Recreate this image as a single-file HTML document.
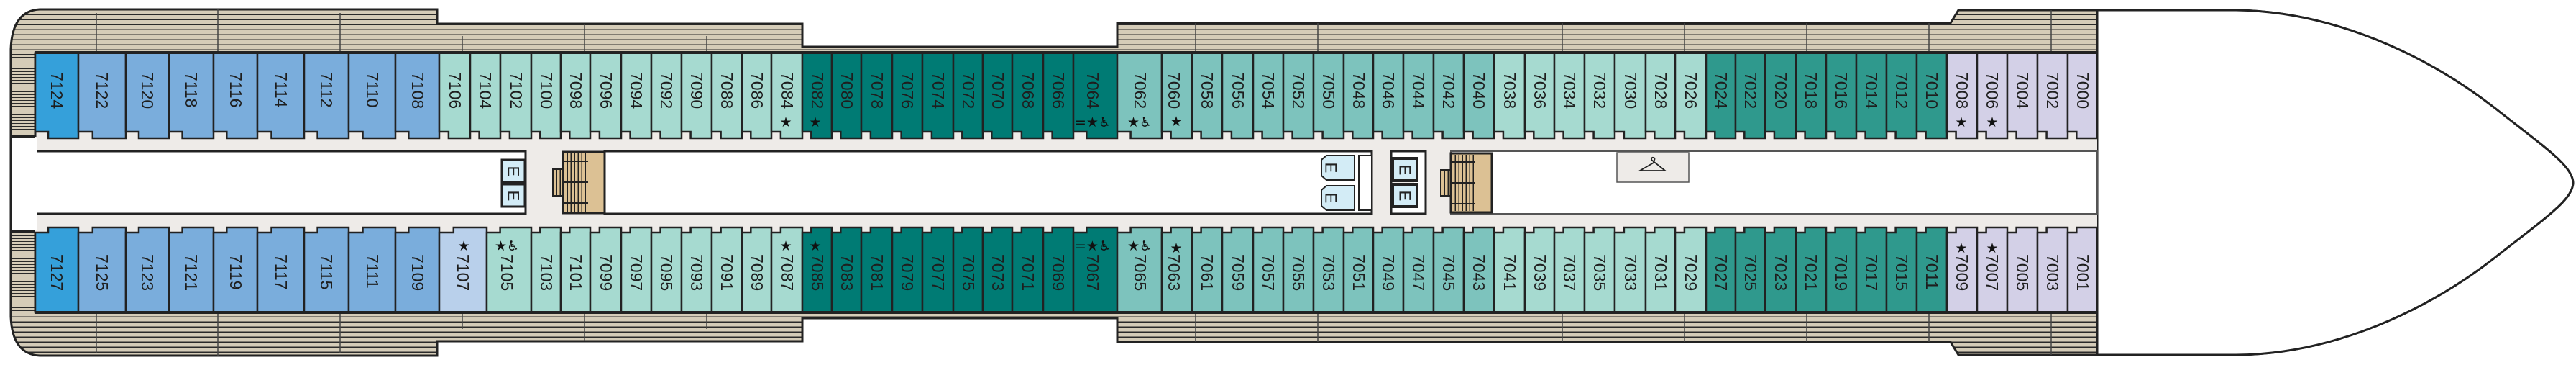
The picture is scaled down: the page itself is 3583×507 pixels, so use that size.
<!DOCTYPE html>
<html><head><meta charset="utf-8"><style>
html,body{margin:0;padding:0;background:#fff;}
svg{display:block;}
.t{font-family:"Liberation Sans",sans-serif;font-size:23px;fill:#1e1e1e;dominant-baseline:central;}
.s{font-family:"DejaVu Sans","Liberation Sans",sans-serif;font-size:19px;fill:#111;text-anchor:middle;dominant-baseline:central;}
.e{font-family:"Liberation Sans",sans-serif;font-size:22px;fill:#222;dominant-baseline:central;text-anchor:middle;}
</style></head><body>
<svg width="3583" height="507" viewBox="0 0 3583 507" xmlns="http://www.w3.org/2000/svg">
<defs>
<pattern id="st" width="10" height="7" patternUnits="userSpaceOnUse"><rect width="10" height="7" fill="#d5ccb8"/><rect y="5.5" width="10" height="1.5" fill="#2a2a2a"/></pattern>
<pattern id="st2" width="10" height="4" patternUnits="userSpaceOnUse"><rect width="10" height="4" fill="#d5ccb8"/><rect y="3" width="10" height="1" fill="#2a2a2a"/></pattern>
<pattern id="sv" width="5" height="10" patternUnits="userSpaceOnUse"><rect width="5" height="10" fill="#dcc194"/><rect x="3.5" width="1.5" height="10" fill="#222"/></pattern>
<symbol id="ct" viewBox="0 0 100 119" preserveAspectRatio="none" style="overflow:visible"><polygon points="0,0 100,0 100,119 30,119 30,110 0,110" vector-effect="non-scaling-stroke"/></symbol>
<symbol id="cb" viewBox="0 0 100 118" preserveAspectRatio="none" style="overflow:visible"><polygon points="0,7 30,7 30,0 100,0 100,118 0,118" vector-effect="non-scaling-stroke"/></symbol>
</defs>

<!-- hull with deck stripes -->
<path d="M55,13 L608,13 L608,33 L1116,33 L1116,65 L1554,65 L1554,32 L2713,32 L2724,14 L3110,14 C3250,16 3380,80 3470,150 C3540,205 3578,230 3579,254 C3578,278 3540,303 3470,358 C3380,428 3250,492 3110,493 L2724,493 L2713,475 L1554,475 L1554,442 L1116,442 L1116,474 L608,474 L608,494 L55,494 Q17,492 15,440 L15,68 Q17,15 55,13 Z" fill="url(#st)" stroke="#222" stroke-width="3"/>
<!-- bow white -->
<path d="M2917,14 L3110,14 C3250,16 3380,80 3470,150 C3540,205 3578,230 3579,254 C3578,278 3540,303 3470,358 C3380,428 3250,492 3110,493 L2917,493 Z" fill="#fff" stroke="#222" stroke-width="3"/>
<!-- deck dividers -->
<g stroke="#444" stroke-width="1.5">
<line x1="134" y1="18" x2="134" y2="73"/><line x1="303" y1="13" x2="303" y2="73"/><line x1="473" y1="18" x2="473" y2="73"/>
<line x1="134" y1="434" x2="134" y2="490"/><line x1="303" y1="434" x2="303" y2="494"/><line x1="473" y1="434" x2="473" y2="490"/>
<line x1="643" y1="50" x2="643" y2="73"/><line x1="813" y1="33" x2="813" y2="73"/><line x1="983" y1="50" x2="983" y2="73"/>
<line x1="643" y1="434" x2="643" y2="457"/><line x1="813" y1="434" x2="813" y2="474"/><line x1="983" y1="434" x2="983" y2="457"/>
<line x1="1663" y1="32" x2="1663" y2="73"/><line x1="1833" y1="32" x2="1833" y2="73"/><line x1="2173" y1="32" x2="2173" y2="73"/><line x1="2343" y1="32" x2="2343" y2="73"/><line x1="2513" y1="32" x2="2513" y2="73"/><line x1="2683" y1="32" x2="2683" y2="73"/><line x1="2853" y1="14" x2="2853" y2="73"/>
<line x1="1663" y1="434" x2="1663" y2="475"/><line x1="1833" y1="434" x2="1833" y2="475"/><line x1="2173" y1="434" x2="2173" y2="475"/><line x1="2343" y1="434" x2="2343" y2="475"/><line x1="2513" y1="434" x2="2513" y2="475"/><line x1="2683" y1="434" x2="2683" y2="475"/><line x1="2853" y1="434" x2="2853" y2="493"/>
</g>
<line x1="2917" y1="14" x2="2917" y2="493" stroke="#222" stroke-width="3"/>

<!-- stern stripes & opening -->
<rect x="16" y="73" width="33" height="117" fill="url(#st2)"/>
<rect x="16" y="322" width="33" height="112" fill="url(#st2)"/>
<rect x="16" y="190" width="33" height="132" fill="#fff"/>
<line x1="15" y1="190" x2="50" y2="190" stroke="#222" stroke-width="4"/>
<line x1="15" y1="322" x2="50" y2="322" stroke="#222" stroke-width="4"/>

<!-- corridor -->
<rect x="49" y="180" width="2868" height="146" fill="#eeebe8"/>
<!-- white inner boxes -->
<rect x="49" y="210" width="682" height="87" fill="#fff" stroke="#222" stroke-width="3"/>
<rect x="16" y="192" width="35" height="128" fill="#fff"/>
<rect x="841" y="210" width="1067" height="87" fill="#fff" stroke="#222" stroke-width="3"/>
<rect x="2018" y="210" width="899" height="87" fill="#fff" stroke="#555" stroke-width="2"/>
<line x1="49" y1="73" x2="49" y2="190" stroke="#222" stroke-width="3"/>
<line x1="49" y1="322" x2="49" y2="434" stroke="#222" stroke-width="3"/>

<!-- elevators A -->
<rect x="698" y="222" width="32" height="31" fill="#d3ecf6" stroke="#222" stroke-width="3"/>
<rect x="698" y="256" width="32" height="31" fill="#d3ecf6" stroke="#222" stroke-width="3"/>
<text class="e" transform="translate(714,238) rotate(90)">E</text>
<text class="e" transform="translate(714,272) rotate(90)">E</text>
<!-- stairs 1 -->
<rect x="769" y="235" width="14" height="37" fill="url(#sv)" stroke="#222" stroke-width="2"/>
<rect x="783" y="211" width="58" height="85" fill="#dcc194" stroke="#222" stroke-width="3"/>
<rect x="785" y="213" width="33" height="81" fill="url(#sv)"/>
<g stroke="#222" stroke-width="2"><line x1="783" y1="224" x2="818" y2="224"/><line x1="783" y1="253" x2="818" y2="253"/><line x1="783" y1="282" x2="818" y2="282"/></g>

<!-- elevators B -->
<rect x="1890" y="216" width="18" height="76" fill="#fff" stroke="#222" stroke-width="2"/>
<path d="M1845,216 L1884,216 L1884,250 L1845,250 L1838,244 L1838,222 Z" fill="#d3ecf6" stroke="#222" stroke-width="2"/>
<path d="M1845,258 L1884,258 L1884,292 L1845,292 L1838,286 L1838,264 Z" fill="#d3ecf6" stroke="#222" stroke-width="2"/>
<text class="e" transform="translate(1851,233) rotate(90)">E</text>
<text class="e" transform="translate(1851,275) rotate(90)">E</text>
<!-- elevators C -->
<rect x="1935" y="210" width="48" height="87" fill="#fff" stroke="#222" stroke-width="3"/>
<rect x="1937" y="225" width="30" height="60" fill="#eeebe8"/>
<rect x="1937" y="220" width="34" height="31" fill="#d3ecf6" stroke="#222" stroke-width="4"/>
<rect x="1937" y="256" width="34" height="31" fill="#d3ecf6" stroke="#222" stroke-width="4"/>
<text class="e" transform="translate(1954,236) rotate(90)">E</text>
<text class="e" transform="translate(1954,272) rotate(90)">E</text>
<!-- stairs 2 -->
<rect x="2004" y="236" width="14" height="36" fill="url(#sv)" stroke="#222" stroke-width="2"/>
<rect x="2018" y="213" width="57" height="82" fill="#dcc194" stroke="#222" stroke-width="3"/>
<rect x="2020" y="215" width="32" height="78" fill="url(#sv)"/>
<g stroke="#222" stroke-width="2"><line x1="2018" y1="225" x2="2052" y2="225"/><line x1="2018" y1="254" x2="2052" y2="254"/><line x1="2018" y1="283" x2="2052" y2="283"/></g>
<!-- wardrobe -->
<rect x="2249" y="212" width="100" height="41" fill="#eeebe8" stroke="#555" stroke-width="1.5"/>
<path d="M2297,222 q0,-4 3,-3 q3,1 0,5 L2300,226 L2281,237 L2316,237 Z" fill="none" stroke="#222" stroke-width="1.8"/>

<!-- cabins top -->
<g stroke="#222" stroke-width="2.5">
<use href="#ct" x="49" y="73" width="60" height="119" fill="#35a0da"/>
<g fill="#7aaddc">
<use href="#ct" x="109" y="73" width="66" height="119"/><use href="#ct" x="175" y="73" width="60" height="119"/><use href="#ct" x="235" y="73" width="62" height="119"/><use href="#ct" x="297" y="73" width="61" height="119"/><use href="#ct" x="358" y="73" width="65" height="119"/><use href="#ct" x="423" y="73" width="62" height="119"/><use href="#ct" x="485" y="73" width="65" height="119"/><use href="#ct" x="550" y="73" width="61" height="119"/>
</g>
<g fill="#a6dad0">
<use href="#ct" x="611" y="73" width="43" height="119"/><use href="#ct" x="654" y="73" width="42" height="119"/><use href="#ct" x="696" y="73" width="43" height="119"/><use href="#ct" x="739" y="73" width="41" height="119"/><use href="#ct" x="780" y="73" width="41" height="119"/><use href="#ct" x="821" y="73" width="43" height="119"/><use href="#ct" x="864" y="73" width="42" height="119"/><use href="#ct" x="906" y="73" width="42" height="119"/><use href="#ct" x="948" y="73" width="42" height="119"/><use href="#ct" x="990" y="73" width="42" height="119"/><use href="#ct" x="1032" y="73" width="41" height="119"/><use href="#ct" x="1073" y="73" width="43" height="119"/>
</g>
<g fill="#007b74">
<use href="#ct" x="1116" y="73" width="41" height="119"/><use href="#ct" x="1157" y="73" width="41" height="119"/><use href="#ct" x="1198" y="73" width="43" height="119"/><use href="#ct" x="1241" y="73" width="42" height="119"/><use href="#ct" x="1283" y="73" width="43" height="119"/><use href="#ct" x="1326" y="73" width="41" height="119"/><use href="#ct" x="1367" y="73" width="41" height="119"/><use href="#ct" x="1408" y="73" width="43" height="119"/><use href="#ct" x="1451" y="73" width="42" height="119"/><use href="#ct" x="1493" y="73" width="61" height="119"/>
</g>
<g fill="#7dc3bd">
<use href="#ct" x="1554" y="73" width="62" height="119"/><use href="#ct" x="1616" y="73" width="42" height="119"/><use href="#ct" x="1658" y="73" width="42" height="119"/><use href="#ct" x="1700" y="73" width="43" height="119"/><use href="#ct" x="1743" y="73" width="42" height="119"/><use href="#ct" x="1785" y="73" width="42" height="119"/><use href="#ct" x="1827" y="73" width="42" height="119"/><use href="#ct" x="1869" y="73" width="41" height="119"/><use href="#ct" x="1910" y="73" width="42" height="119"/><use href="#ct" x="1952" y="73" width="42" height="119"/><use href="#ct" x="1994" y="73" width="42" height="119"/><use href="#ct" x="2036" y="73" width="42" height="119"/>
</g>
<g fill="#a6dad0">
<use href="#ct" x="2078" y="73" width="43" height="119"/><use href="#ct" x="2121" y="73" width="41" height="119"/><use href="#ct" x="2162" y="73" width="42" height="119"/><use href="#ct" x="2204" y="73" width="42" height="119"/><use href="#ct" x="2246" y="73" width="43" height="119"/><use href="#ct" x="2289" y="73" width="41" height="119"/><use href="#ct" x="2330" y="73" width="43" height="119"/>
</g>
<g fill="#2f998d">
<use href="#ct" x="2373" y="73" width="41" height="119"/><use href="#ct" x="2414" y="73" width="41" height="119"/><use href="#ct" x="2455" y="73" width="43" height="119"/><use href="#ct" x="2498" y="73" width="42" height="119"/><use href="#ct" x="2540" y="73" width="42" height="119"/><use href="#ct" x="2582" y="73" width="42" height="119"/><use href="#ct" x="2624" y="73" width="42" height="119"/><use href="#ct" x="2666" y="73" width="42" height="119"/>
</g>
<g fill="#d3d0e7">
<use href="#ct" x="2708" y="73" width="42" height="119"/><use href="#ct" x="2750" y="73" width="42" height="119"/><use href="#ct" x="2792" y="73" width="42" height="119"/><use href="#ct" x="2834" y="73" width="42" height="119"/><use href="#ct" x="2876" y="73" width="41" height="119"/>
</g>
</g>

<!-- cabins bottom -->
<g stroke="#222" stroke-width="2.5">
<use href="#cb" x="49" y="316" width="60" height="118" fill="#35a0da"/>
<g fill="#7aaddc">
<use href="#cb" x="109" y="316" width="66" height="118"/><use href="#cb" x="175" y="316" width="60" height="118"/><use href="#cb" x="235" y="316" width="62" height="118"/><use href="#cb" x="297" y="316" width="61" height="118"/><use href="#cb" x="358" y="316" width="65" height="118"/><use href="#cb" x="423" y="316" width="62" height="118"/><use href="#cb" x="485" y="316" width="65" height="118"/><use href="#cb" x="550" y="316" width="61" height="118"/>
</g>
<use href="#cb" x="611" y="316" width="66" height="118" fill="#b9d0eb"/>
<g fill="#a6dad0">
<use href="#cb" x="677" y="316" width="62" height="118"/><use href="#cb" x="739" y="316" width="41" height="118"/><use href="#cb" x="780" y="316" width="41" height="118"/><use href="#cb" x="821" y="316" width="43" height="118"/><use href="#cb" x="864" y="316" width="42" height="118"/><use href="#cb" x="906" y="316" width="42" height="118"/><use href="#cb" x="948" y="316" width="42" height="118"/><use href="#cb" x="990" y="316" width="42" height="118"/><use href="#cb" x="1032" y="316" width="41" height="118"/><use href="#cb" x="1073" y="316" width="43" height="118"/>
</g>
<g fill="#007b74">
<use href="#cb" x="1116" y="316" width="41" height="118"/><use href="#cb" x="1157" y="316" width="41" height="118"/><use href="#cb" x="1198" y="316" width="43" height="118"/><use href="#cb" x="1241" y="316" width="42" height="118"/><use href="#cb" x="1283" y="316" width="43" height="118"/><use href="#cb" x="1326" y="316" width="41" height="118"/><use href="#cb" x="1367" y="316" width="41" height="118"/><use href="#cb" x="1408" y="316" width="43" height="118"/><use href="#cb" x="1451" y="316" width="42" height="118"/><use href="#cb" x="1493" y="316" width="61" height="118"/>
</g>
<g fill="#7dc3bd">
<use href="#cb" x="1554" y="316" width="62" height="118"/><use href="#cb" x="1616" y="316" width="42" height="118"/><use href="#cb" x="1658" y="316" width="42" height="118"/><use href="#cb" x="1700" y="316" width="43" height="118"/><use href="#cb" x="1743" y="316" width="42" height="118"/><use href="#cb" x="1785" y="316" width="42" height="118"/><use href="#cb" x="1827" y="316" width="42" height="118"/><use href="#cb" x="1869" y="316" width="41" height="118"/><use href="#cb" x="1910" y="316" width="42" height="118"/><use href="#cb" x="1952" y="316" width="42" height="118"/><use href="#cb" x="1994" y="316" width="42" height="118"/><use href="#cb" x="2036" y="316" width="42" height="118"/>
</g>
<g fill="#a6dad0">
<use href="#cb" x="2078" y="316" width="43" height="118"/><use href="#cb" x="2121" y="316" width="41" height="118"/><use href="#cb" x="2162" y="316" width="42" height="118"/><use href="#cb" x="2204" y="316" width="42" height="118"/><use href="#cb" x="2246" y="316" width="43" height="118"/><use href="#cb" x="2289" y="316" width="41" height="118"/><use href="#cb" x="2330" y="316" width="43" height="118"/>
</g>
<g fill="#2f998d">
<use href="#cb" x="2373" y="316" width="41" height="118"/><use href="#cb" x="2414" y="316" width="41" height="118"/><use href="#cb" x="2455" y="316" width="43" height="118"/><use href="#cb" x="2498" y="316" width="42" height="118"/><use href="#cb" x="2540" y="316" width="42" height="118"/><use href="#cb" x="2582" y="316" width="42" height="118"/><use href="#cb" x="2624" y="316" width="42" height="118"/><use href="#cb" x="2666" y="316" width="42" height="118"/>
</g>
<g fill="#d3d0e7">
<use href="#cb" x="2708" y="316" width="42" height="118"/><use href="#cb" x="2750" y="316" width="42" height="118"/><use href="#cb" x="2792" y="316" width="42" height="118"/><use href="#cb" x="2834" y="316" width="42" height="118"/><use href="#cb" x="2876" y="316" width="41" height="118"/>
</g>
</g>
<line x1="49" y1="73" x2="2917" y2="73" stroke="#222" stroke-width="4"/>
<line x1="49" y1="434" x2="2917" y2="434" stroke="#222" stroke-width="4"/>

<!-- top labels -->
<g class="t">
<text class="t" transform="translate(79,100) rotate(90)">7124</text>
<text class="t" transform="translate(142,100) rotate(90)">7122</text>
<text class="t" transform="translate(205,100) rotate(90)">7120</text>
<text class="t" transform="translate(266,100) rotate(90)">7118</text>
<text class="t" transform="translate(328,100) rotate(90)">7116</text>
<text class="t" transform="translate(391,100) rotate(90)">7114</text>
<text class="t" transform="translate(454,100) rotate(90)">7112</text>
<text class="t" transform="translate(518,100) rotate(90)">7110</text>
<text class="t" transform="translate(581,100) rotate(90)">7108</text>
<text class="t" transform="translate(633,100) rotate(90)">7106</text>
<text class="t" transform="translate(675,100) rotate(90)">7104</text>
<text class="t" transform="translate(718,100) rotate(90)">7102</text>
<text class="t" transform="translate(760,100) rotate(90)">7100</text>
<text class="t" transform="translate(801,100) rotate(90)">7098</text>
<text class="t" transform="translate(843,100) rotate(90)">7096</text>
<text class="t" transform="translate(885,100) rotate(90)">7094</text>
<text class="t" transform="translate(927,100) rotate(90)">7092</text>
<text class="t" transform="translate(969,100) rotate(90)">7090</text>
<text class="t" transform="translate(1011,100) rotate(90)">7088</text>
<text class="t" transform="translate(1053,100) rotate(90)">7086</text>
<text class="t" transform="translate(1095,100) rotate(90)">7084</text>
<text class="t" transform="translate(1137,100) rotate(90)">7082</text>
<text class="t" transform="translate(1178,100) rotate(90)">7080</text>
<text class="t" transform="translate(1220,100) rotate(90)">7078</text>
<text class="t" transform="translate(1262,100) rotate(90)">7076</text>
<text class="t" transform="translate(1305,100) rotate(90)">7074</text>
<text class="t" transform="translate(1347,100) rotate(90)">7072</text>
<text class="t" transform="translate(1388,100) rotate(90)">7070</text>
<text class="t" transform="translate(1430,100) rotate(90)">7068</text>
<text class="t" transform="translate(1472,100) rotate(90)">7066</text>
<text class="t" transform="translate(1520,100) rotate(90)">7064</text>
<text class="t" transform="translate(1586,100) rotate(90)">7062</text>
<text class="t" transform="translate(1633,100) rotate(90)">7060</text>
<text class="t" transform="translate(1679,100) rotate(90)">7058</text>
<text class="t" transform="translate(1722,100) rotate(90)">7056</text>
<text class="t" transform="translate(1764,100) rotate(90)">7054</text>
<text class="t" transform="translate(1806,100) rotate(90)">7052</text>
<text class="t" transform="translate(1848,100) rotate(90)">7050</text>
<text class="t" transform="translate(1890,100) rotate(90)">7048</text>
<text class="t" transform="translate(1931,100) rotate(90)">7046</text>
<text class="t" transform="translate(1973,100) rotate(90)">7044</text>
<text class="t" transform="translate(2015,100) rotate(90)">7042</text>
<text class="t" transform="translate(2057,100) rotate(90)">7040</text>
<text class="t" transform="translate(2100,100) rotate(90)">7038</text>
<text class="t" transform="translate(2142,100) rotate(90)">7036</text>
<text class="t" transform="translate(2183,100) rotate(90)">7034</text>
<text class="t" transform="translate(2225,100) rotate(90)">7032</text>
<text class="t" transform="translate(2268,100) rotate(90)">7030</text>
<text class="t" transform="translate(2310,100) rotate(90)">7028</text>
<text class="t" transform="translate(2352,100) rotate(90)">7026</text>
<text class="t" transform="translate(2394,100) rotate(90)">7024</text>
<text class="t" transform="translate(2435,100) rotate(90)">7022</text>
<text class="t" transform="translate(2477,100) rotate(90)">7020</text>
<text class="t" transform="translate(2519,100) rotate(90)">7018</text>
<text class="t" transform="translate(2561,100) rotate(90)">7016</text>
<text class="t" transform="translate(2603,100) rotate(90)">7014</text>
<text class="t" transform="translate(2645,100) rotate(90)">7012</text>
<text class="t" transform="translate(2687,100) rotate(90)">7010</text>
<text class="t" transform="translate(2729,100) rotate(90)">7008</text>
<text class="t" transform="translate(2771,100) rotate(90)">7006</text>
<text class="t" transform="translate(2813,100) rotate(90)">7004</text>
<text class="t" transform="translate(2855,100) rotate(90)">7002</text>
<text class="t" transform="translate(2897,100) rotate(90)">7000</text>
</g>

<!-- bottom labels -->
<g>
<text class="t" transform="translate(79,353) rotate(90)">7127</text>
<text class="t" transform="translate(142,353) rotate(90)">7125</text>
<text class="t" transform="translate(205,353) rotate(90)">7123</text>
<text class="t" transform="translate(266,353) rotate(90)">7121</text>
<text class="t" transform="translate(328,353) rotate(90)">7119</text>
<text class="t" transform="translate(391,353) rotate(90)">7117</text>
<text class="t" transform="translate(454,353) rotate(90)">7115</text>
<text class="t" transform="translate(518,353) rotate(90)">7111</text>
<text class="t" transform="translate(581,353) rotate(90)">7109</text>
<text class="t" transform="translate(644,353) rotate(90)">7107</text>
<text class="t" transform="translate(705,353) rotate(90)">7105</text>
<text class="t" transform="translate(760,353) rotate(90)">7103</text>
<text class="t" transform="translate(801,353) rotate(90)">7101</text>
<text class="t" transform="translate(843,353) rotate(90)">7099</text>
<text class="t" transform="translate(885,353) rotate(90)">7097</text>
<text class="t" transform="translate(927,353) rotate(90)">7095</text>
<text class="t" transform="translate(969,353) rotate(90)">7093</text>
<text class="t" transform="translate(1011,353) rotate(90)">7091</text>
<text class="t" transform="translate(1053,353) rotate(90)">7089</text>
<text class="t" transform="translate(1095,353) rotate(90)">7087</text>
<text class="t" transform="translate(1137,353) rotate(90)">7085</text>
<text class="t" transform="translate(1178,353) rotate(90)">7083</text>
<text class="t" transform="translate(1220,353) rotate(90)">7081</text>
<text class="t" transform="translate(1262,353) rotate(90)">7079</text>
<text class="t" transform="translate(1305,353) rotate(90)">7077</text>
<text class="t" transform="translate(1347,353) rotate(90)">7075</text>
<text class="t" transform="translate(1388,353) rotate(90)">7073</text>
<text class="t" transform="translate(1430,353) rotate(90)">7071</text>
<text class="t" transform="translate(1472,353) rotate(90)">7069</text>
<text class="t" transform="translate(1520,353) rotate(90)">7067</text>
<text class="t" transform="translate(1586,353) rotate(90)">7065</text>
<text class="t" transform="translate(1633,353) rotate(90)">7063</text>
<text class="t" transform="translate(1679,353) rotate(90)">7061</text>
<text class="t" transform="translate(1722,353) rotate(90)">7059</text>
<text class="t" transform="translate(1764,353) rotate(90)">7057</text>
<text class="t" transform="translate(1806,353) rotate(90)">7055</text>
<text class="t" transform="translate(1848,353) rotate(90)">7053</text>
<text class="t" transform="translate(1890,353) rotate(90)">7051</text>
<text class="t" transform="translate(1931,353) rotate(90)">7049</text>
<text class="t" transform="translate(1973,353) rotate(90)">7047</text>
<text class="t" transform="translate(2015,353) rotate(90)">7045</text>
<text class="t" transform="translate(2057,353) rotate(90)">7043</text>
<text class="t" transform="translate(2100,353) rotate(90)">7041</text>
<text class="t" transform="translate(2142,353) rotate(90)">7039</text>
<text class="t" transform="translate(2183,353) rotate(90)">7037</text>
<text class="t" transform="translate(2225,353) rotate(90)">7035</text>
<text class="t" transform="translate(2268,353) rotate(90)">7033</text>
<text class="t" transform="translate(2310,353) rotate(90)">7031</text>
<text class="t" transform="translate(2352,353) rotate(90)">7029</text>
<text class="t" transform="translate(2394,353) rotate(90)">7027</text>
<text class="t" transform="translate(2435,353) rotate(90)">7025</text>
<text class="t" transform="translate(2477,353) rotate(90)">7023</text>
<text class="t" transform="translate(2519,353) rotate(90)">7021</text>
<text class="t" transform="translate(2561,353) rotate(90)">7019</text>
<text class="t" transform="translate(2603,353) rotate(90)">7017</text>
<text class="t" transform="translate(2645,353) rotate(90)">7015</text>
<text class="t" transform="translate(2687,353) rotate(90)">7011</text>
<text class="t" transform="translate(2729,353) rotate(90)">7009</text>
<text class="t" transform="translate(2771,353) rotate(90)">7007</text>
<text class="t" transform="translate(2813,353) rotate(90)">7005</text>
<text class="t" transform="translate(2855,353) rotate(90)">7003</text>
<text class="t" transform="translate(2897,353) rotate(90)">7001</text>
</g>

<!-- symbols top -->
<text class="s" x="1093" y="170">★</text>
<text class="s" x="1134" y="170">★</text>
<text class="s" x="1520" y="170">=★♿</text>
<text class="s" x="1585" y="170">★♿</text>
<text class="s" x="1636" y="169">★</text>
<text class="s" x="2728" y="170">★</text>
<text class="s" x="2771" y="170">★</text>
<!-- symbols bottom -->
<text class="s" x="645" y="342">★</text>
<text class="s" x="705" y="342">★♿</text>
<text class="s" x="1093" y="342">★</text>
<text class="s" x="1134" y="342">★</text>
<text class="s" x="1520" y="342">=★♿</text>
<text class="s" x="1585" y="342">★♿</text>
<text class="s" x="1636" y="345">★</text>
<text class="s" x="2728" y="345">★</text>
<text class="s" x="2771" y="345">★</text>
</svg>
</body></html>
